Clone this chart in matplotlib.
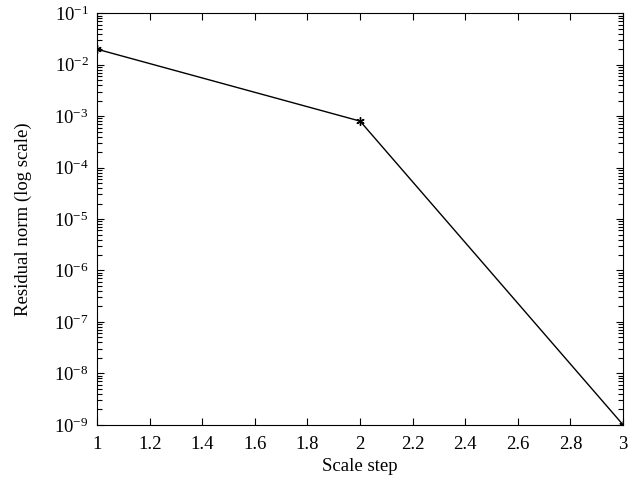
import matplotlib.pyplot as plt
from matplotlib.ticker import FixedLocator, NullFormatter

plt.rcParams['font.family'] = ['Liberation Serif', 'DejaVu Serif']
plt.rcParams['mathtext.fontset'] = 'stix'

scale_step = [1, 2, 3]
residual = [2e-2, 8e-4, 1e-9]

fig = plt.figure(figsize=(6.43, 4.90), dpi=100)
ax = fig.add_axes([0.151, 0.133, 0.818, 0.840])

ax.semilogy(scale_step, residual, color='black', linewidth=1.0,
            marker=(6, 2, 0), markersize=6, markeredgewidth=1.0)

ax.set_xlim(1, 3)
ax.set_ylim(1e-9, 1e-1)
ax.set_xticks([1, 1.2, 1.4, 1.6, 1.8, 2, 2.2, 2.4, 2.6, 2.8, 3])
ax.set_xticklabels(['1', '1.2', '1.4', '1.6', '1.8', '2', '2.2', '2.4', '2.6', '2.8', '3'])
ax.set_yticks([10.0 ** e for e in range(-9, 0)])
# minor ticks between decades
minor = [m * 10.0 ** e for e in range(-9, -1) for m in range(2, 10)]
ax.yaxis.set_minor_locator(FixedLocator(minor))
ax.yaxis.set_minor_formatter(NullFormatter())

ax.tick_params(which='both', direction='in', top=True, right=True, labelsize=13.5, width=0.8)
ax.tick_params(which='major', length=5)
ax.tick_params(which='minor', length=3.5, left=True, right=True)
ax.tick_params(axis='x', pad=8)
ax.tick_params(axis='y', pad=6)
for s in ax.spines.values():
    s.set_linewidth(0.8)

ax.set_xlabel('Scale step', fontsize=13.5, labelpad=4)
ax.set_ylabel('Residual norm (log scale)', fontsize=13.5, labelpad=16)

plt.savefig('out.png', dpi=100)
